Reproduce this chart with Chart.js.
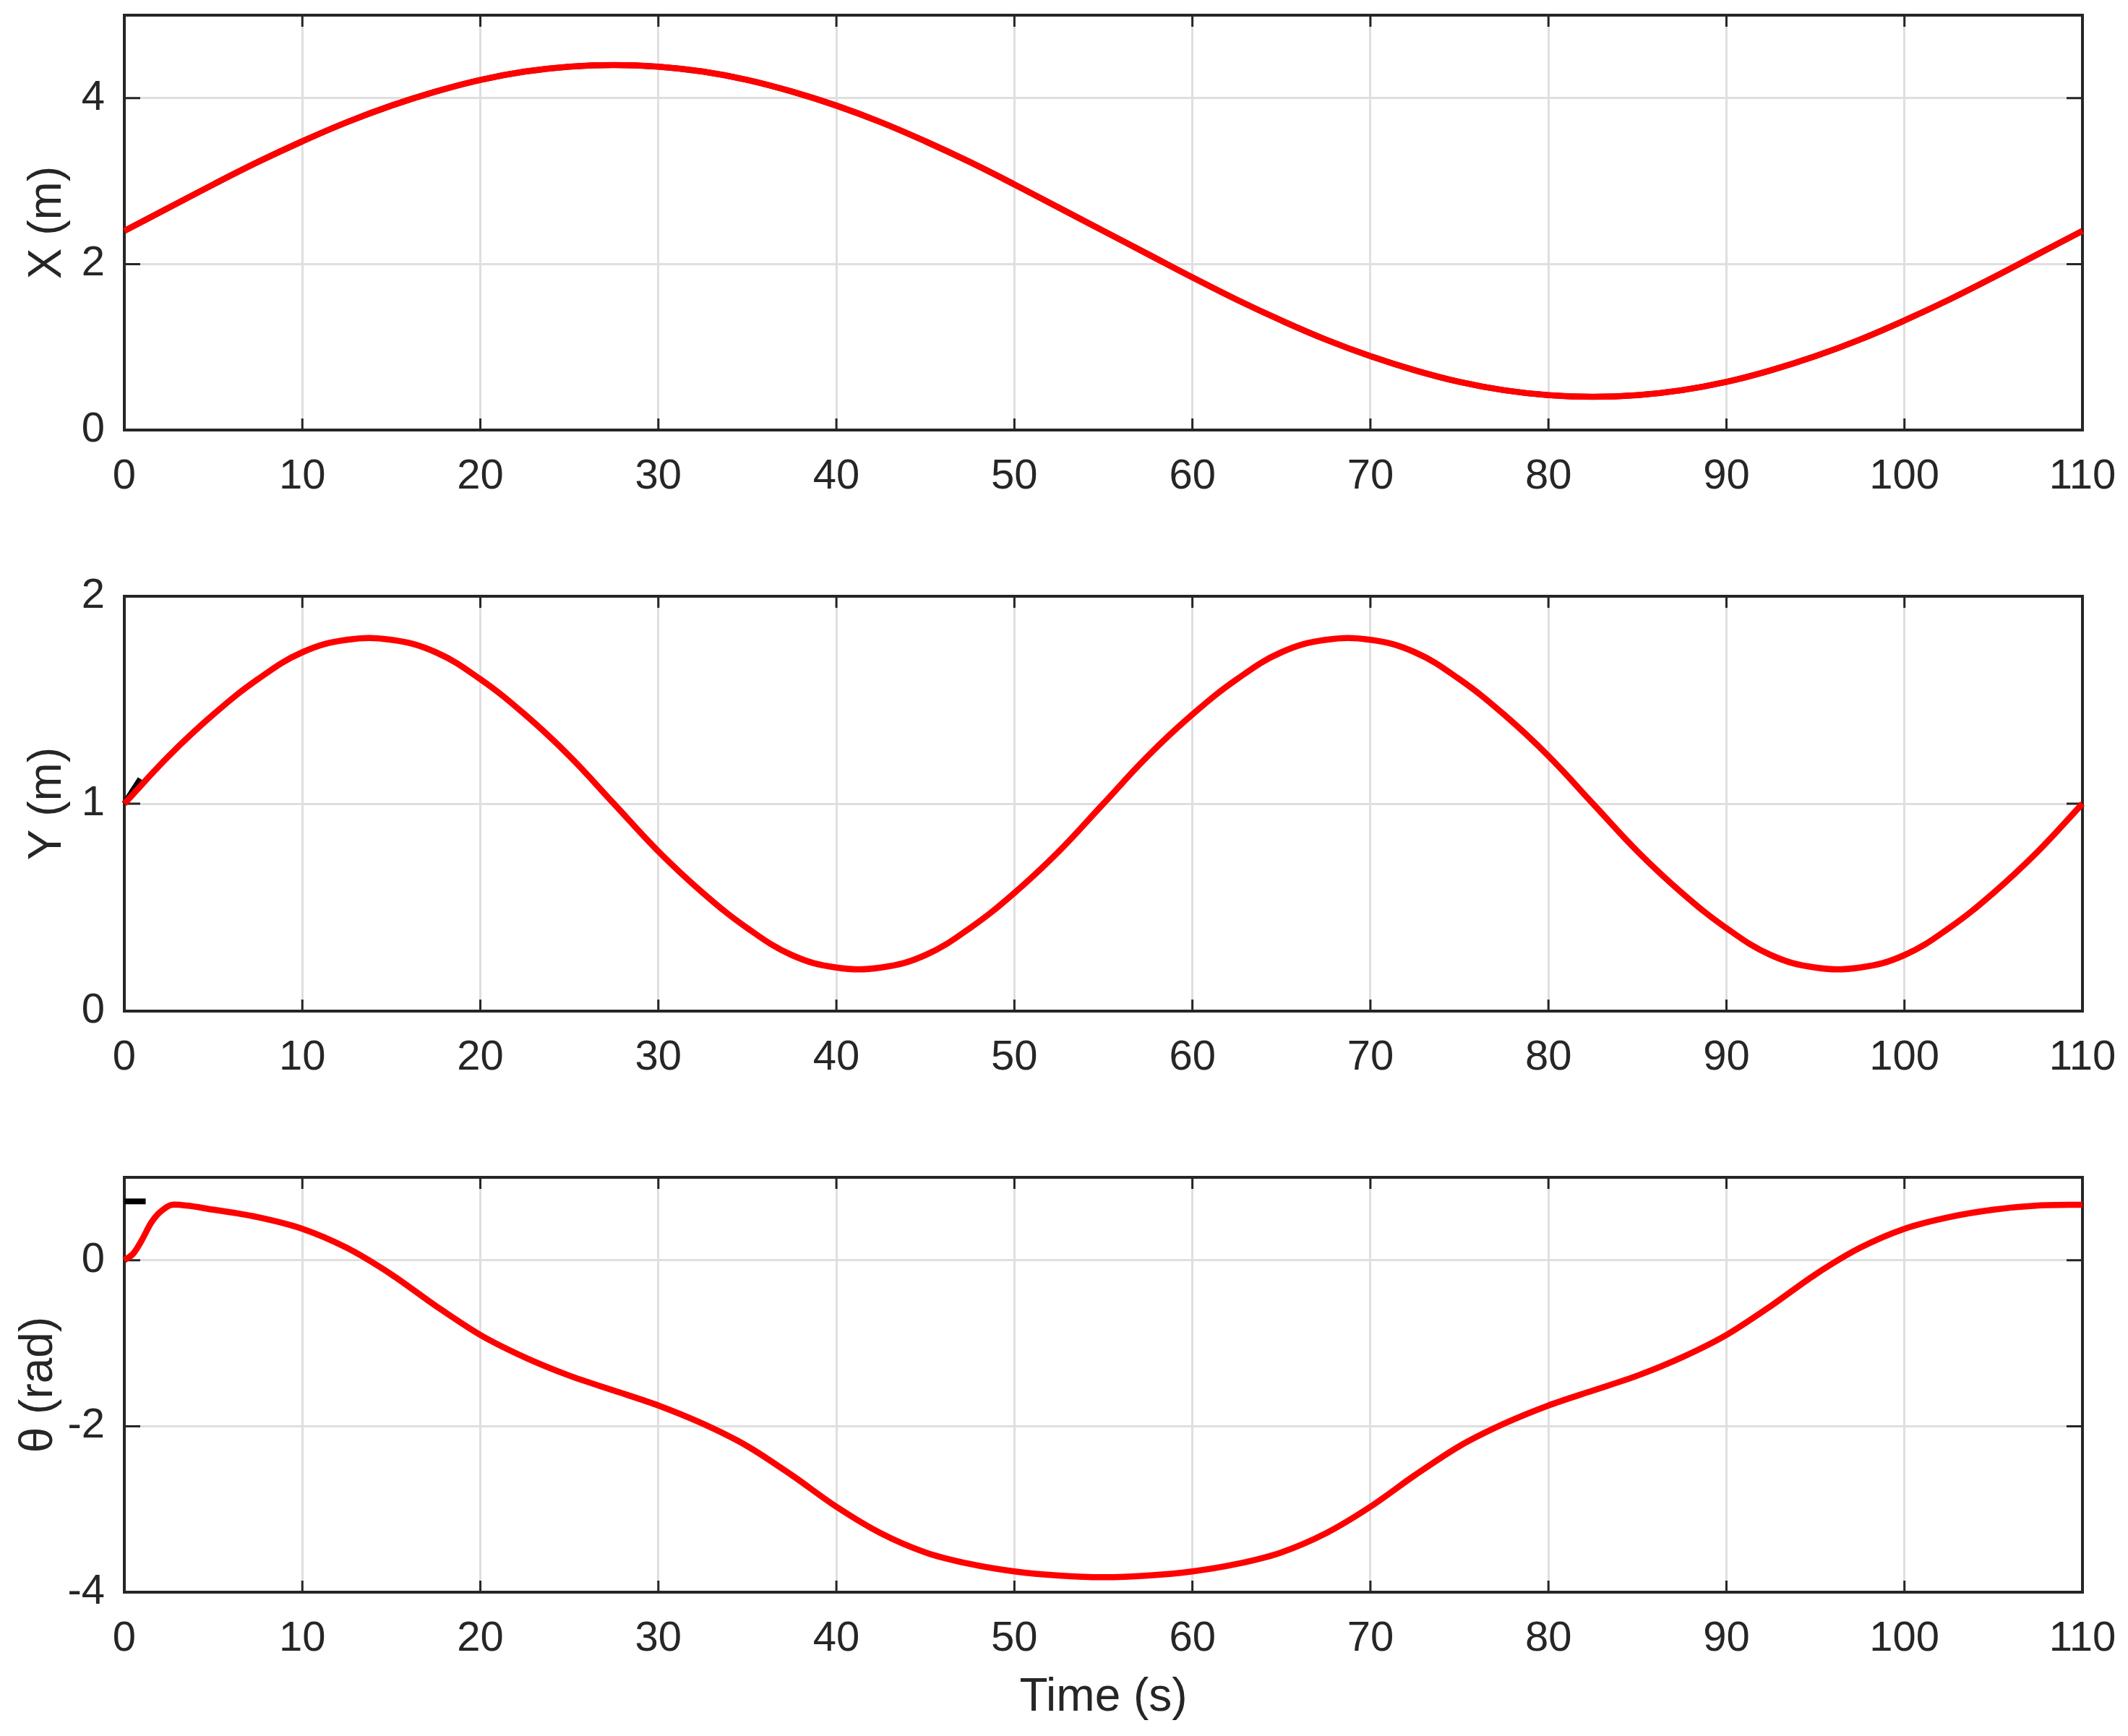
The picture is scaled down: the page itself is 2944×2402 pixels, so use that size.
<!DOCTYPE html>
<html>
<head>
<meta charset="utf-8">
<script src="https://cdn.jsdelivr.net/npm/chart.js@4/dist/chart.umd.min.js"></script>
<style>
  html, body { margin: 0; padding: 0; background: #ffffff; }
  body { width: 2944px; height: 2402px; position: relative; overflow: hidden; }
  canvas { position: absolute; left: 0; }
</style>
</head>
<body>
<canvas id="c1" width="2944" height="804" style="top:0px"></canvas>
<canvas id="c2" width="2944" height="904" style="top:704px"></canvas>
<canvas id="c3" width="2944" height="894" style="top:1508px"></canvas>
<script>
// ---------- data ----------
const timeS = [0,2.5,5,7.5,10,12.5,15,17.5,20,22.5,25,27.5,30,32.5,35,37.5,40,42.5,45,47.5,50,52.5,55,57.5,60,62.5,65,67.5,70,72.5,75,77.5,80,82.5,85,87.5,90,92.5,95,97.5,100,102.5,105,107.5,110];

const xPos = [2.40,2.68,2.96,3.23,3.48,3.71,3.91,4.08,4.22,4.32,4.38,4.40,4.38,4.32,4.22,4.08,3.91,3.71,3.48,3.23,2.96,2.68,2.40,2.12,1.84,1.57,1.32,1.09,0.89,0.72,0.58,0.48,0.42,0.40,0.42,0.48,0.58,0.72,0.89,1.09,1.32,1.57,1.84,2.12,2.40];

const yPos = [1.00,1.23,1.43,1.60,1.73,1.79,1.79,1.73,1.60,1.43,1.23,1.00,0.77,0.57,0.40,0.27,0.21,0.21,0.27,0.40,0.57,0.77,1.00,1.23,1.43,1.60,1.73,1.79,1.79,1.73,1.60,1.43,1.23,1.00,0.77,0.57,0.40,0.27,0.21,0.21,0.27,0.40,0.57,0.77,1.00];

const timeTheta = [0,0.5,1,1.5,2,2.7,5,7.5,10,12.5,15,17.5,20,22.5,25,27.5,30,32.5,35,37.5,40,42.5,45,47.5,50,52.5,55,57.5,60,62.5,65,67.5,70,72.5,75,77.5,80,82.5,85,87.5,90,92.5,95,97.5,100,102.5,105,107.5,110];
const theta = [0,0.08,0.25,0.45,0.58,0.67,0.61,0.52,0.38,0.15,-0.17,-0.55,-0.90,-1.17,-1.39,-1.57,-1.75,-1.97,-2.24,-2.59,-2.97,-3.29,-3.52,-3.66,-3.75,-3.80,-3.82,-3.80,-3.75,-3.66,-3.52,-3.29,-2.97,-2.59,-2.24,-1.97,-1.75,-1.57,-1.39,-1.17,-0.90,-0.55,-0.17,0.15,0.38,0.52,0.61,0.66,0.67];

// reference (black) trajectories – mostly hidden under the red curves
const xRef = [2.40,2.68,2.96,3.23,3.48,3.71,3.91,4.08,4.22,4.32,4.38,4.40,4.38,4.32,4.22,4.08,3.91,3.71,3.48,3.23,2.96,2.68,2.40,2.12,1.84,1.57,1.32,1.09,0.89,0.72,0.58,0.48,0.42,0.40,0.42,0.48,0.58,0.72,0.89,1.09,1.32,1.57,1.84,2.12,2.40];
const yRefTime = [0,0.9];
const yRef = [1.00,1.12];
const thetaRefTime = [0,1.2];
const thetaRef = [0.71,0.71];

// axes / ticks
const xTicks = [0,10,20,30,40,50,60,70,80,90,100,110];
const xLimits = [0,110];
const yTicks1 = [0,2,4];   const yLim1 = [0,5];
const yTicks2 = [0,1,2];   const yLim2 = [0,2];
const yTicks3 = [-4,-2,0]; const yLim3 = [-4,1];
const yLabels = ['X (m)','Y (m)','\u03B8 (rad)'];
const xLabel = 'Time (s)';

// ---------- helpers ----------
const pts = (xs, ys) => xs.map((x, i) => ({x: x, y: ys[i]}));
const FONT = '"Liberation Sans", Arial, Helvetica, sans-serif';
const TXT = '#262626';

const framePlugin = {
  id: 'frame',
  beforeDatasetsDraw(chart) {
    const {ctx, chartArea: a, scales} = chart;
    const xs = scales.x, ys = scales.y;
    ctx.save();
    ctx.strokeStyle = '#262626';
    ctx.lineWidth = 3;
    ctx.beginPath();
    xs.ticks.forEach(t => {
      const p = xs.getPixelForValue(t.value);
      ctx.moveTo(p, a.bottom); ctx.lineTo(p, a.bottom - 16);
      ctx.moveTo(p, a.top);    ctx.lineTo(p, a.top + 16);
    });
    ys.ticks.forEach(t => {
      const p = ys.getPixelForValue(t.value);
      ctx.moveTo(a.left, p);  ctx.lineTo(a.left + 22, p);
      ctx.moveTo(a.right, p); ctx.lineTo(a.right - 22, p);
    });
    ctx.stroke();
    ctx.lineWidth = 4;
    ctx.strokeRect(a.left, a.top, a.right - a.left, a.bottom - a.top);
    ctx.restore();
  }
};

function zeroPad(s) { s.paddingTop = 0; s.paddingBottom = 0; s.paddingLeft = 0; s.paddingRight = 0; }

function makeChart(id, datasets, yTicks, yLim, yLabel, titleLeftPad, topPad, xAxisHeight, showXTitle) {
  return new Chart(document.getElementById(id), {
    type: 'line',
    data: { datasets: datasets },
    options: {
      responsive: false,
      devicePixelRatio: 1,
      animation: false,
      events: [],
      layout: { padding: { top: topPad, right: 63, left: 0, bottom: 0 } },
      plugins: { legend: { display: false }, tooltip: { enabled: false } },
      elements: { point: { radius: 0 } },
      scales: {
        x: {
          type: 'linear',
          min: xLimits[0], max: xLimits[1],
          afterBuildTicks: s => { s.ticks = xTicks.map(v => ({value: v})); },
          afterFit: s => { s.height = xAxisHeight; zeroPad(s); },
          border: { display: false },
          grid: { color: '#dfdfdf', lineWidth: 3, drawTicks: false },
          ticks: { color: TXT, font: { family: FONT, size: 58, lineHeight: 1.2 }, padding: 30, maxRotation: 0, autoSkip: false },
          title: { display: showXTitle, text: xLabel, color: TXT, font: { family: FONT, size: 64, lineHeight: 1.2 }, padding: { top: 0, bottom: 14 } }
        },
        y: {
          type: 'linear',
          min: yLim[0], max: yLim[1],
          afterBuildTicks: s => { s.ticks = yTicks.map(v => ({value: v})); },
          afterFit: s => { s.width = 172; zeroPad(s); },
          border: { display: false },
          grid: { color: '#dfdfdf', lineWidth: 3, drawTicks: false },
          ticks: { color: TXT, font: { family: FONT, size: 58, lineHeight: 1.2 }, padding: 27, autoSkip: false },
          title: { display: true, text: yLabel, color: TXT, font: { family: FONT, size: 64, lineHeight: 1.2 }, padding: { top: titleLeftPad, bottom: 0 } }
        }
      }
    },
    plugins: [framePlugin]
  });
}

const refStyle = { borderColor: '#000000', borderWidth: 8, pointRadius: 0, fill: false, tension: 0.4, clip: 8 };
const redStyle = { borderColor: '#ff0000', borderWidth: 8.5, pointRadius: 0, fill: false, tension: 0.4, clip: 8 };

// first dataset in the list is drawn on top in Chart.js
makeChart('c1', [
  Object.assign({ label: 'X', data: pts(timeS, xPos) }, redStyle),
  Object.assign({ label: 'X ref', data: pts(timeS, xRef) }, refStyle)
], yTicks1, yLim1, yLabels[0], 28, 21, 209, false);

makeChart('c2', [
  Object.assign({ label: 'Y', data: pts(timeS, yPos) }, redStyle),
  Object.assign({ label: 'Y ref', data: pts(yRefTime, yRef) }, refStyle)
], yTicks2, yLim2, yLabels[1], 28, 121, 209, false);

makeChart('c3', [
  Object.assign({ label: '\u03B8', data: pts(timeTheta, theta) }, redStyle, { tension: 0.3 }),
  Object.assign({ label: '\u03B8 ref', data: pts(thetaRefTime, thetaRef) }, refStyle)
], yTicks3, yLim3, yLabels[2], 16, 121, 199, true);
</script>
</body>
</html>
